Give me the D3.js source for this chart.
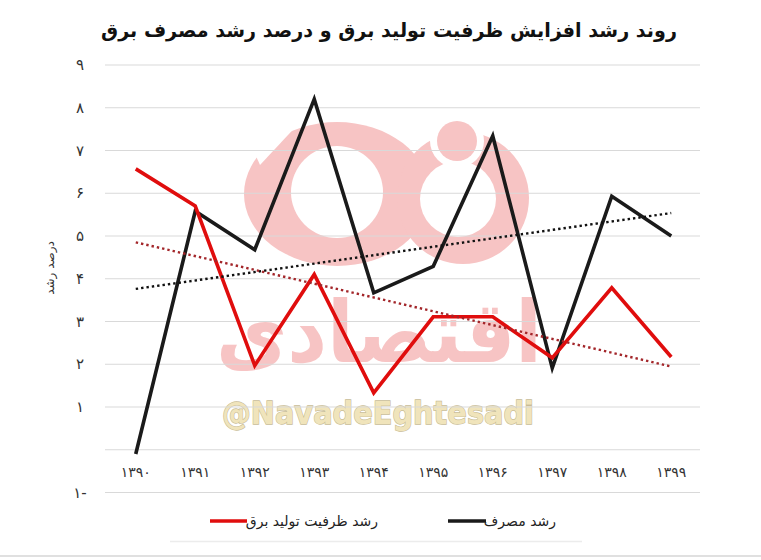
<!DOCTYPE html>
<html><head><meta charset="utf-8">
<script src="https://cdn.jsdelivr.net/npm/d3@7"></script>
<style>body{margin:0;background:#fff}</style>
</head><body>
<svg id="c" width="761" height="560"></svg>
<script>
// ---------- DATA ----------
const years = ['۱۳۹۰','۱۳۹۱','۱۳۹۲','۱۳۹۳','۱۳۹۴','۱۳۹۵','۱۳۹۶','۱۳۹۷','۱۳۹۸','۱۳۹۹'];
const capacityGrowth = [6.57, 5.7, 1.97, 4.1, 1.33, 3.11, 3.11, 2.15, 3.79, 2.17];
const consumptionGrowth = [-0.1, 5.58, 4.68, 8.2, 3.67, 4.29, 7.34, 1.91, 5.93, 5.0];
const yTicks = [-1, 0, 1, 2, 3, 4, 5, 6, 7, 8, 9];
const yTickLabels = ['۱-', '', '۱', '۲', '۳', '۴', '۵', '۶', '۷', '۸', '۹'];
const seriesNames = ['رشد ظرفیت تولید برق', 'رشد مصرف'];
const titleText = 'روند رشد افزایش ظرفیت تولید برق و درصد رشد مصرف برق';
const yTitle = 'درصد رشد';

// ---------- SETUP ----------
const FONT = '"DejaVu Sans", "Noto Sans", sans-serif';
const svg = d3.select('#c');
const x = d3.scaleBand().domain(years).range([106, 701]);
const cx = d => x(d) + x.bandwidth() / 2;
const y = d3.scaleLinear().domain([-1, 9]).range([492.5, 65]);

// helper: fit a text element into a box
function fitBox(sel, x0, y0, w, h) {
  const b = sel.node().getBBox();
  const sx = w / b.width, sy = h / b.height;
  sel.attr('transform', `translate(${x0 - b.x * sx},${y0 - b.y * sy}) scale(${sx},${sy})`);
}

// ---------- WATERMARK ----------
const wm = svg.append('g');
const pink = '#f7c4c4';
wm.append('ellipse').attr('cx', 337).attr('cy', 194).attr('rx', 93).attr('ry', 72).attr('fill', pink);
wm.append('circle').attr('cx', 463).attr('cy', 198).attr('r', 66).attr('fill', pink);
wm.append('circle').attr('cx', 337).attr('cy', 192).attr('r', 46).attr('fill', '#fff');
wm.append('circle').attr('cx', 458).attr('cy', 199).attr('r', 38).attr('fill', '#fff');
wm.append('path').attr('d', 'M240,120 L302,120 L260,165 Z').attr('fill', '#fff');
wm.append('circle').attr('cx', 457).attr('cy', 141).attr('r', 27).attr('fill', '#fff');
wm.append('circle').attr('cx', 457).attr('cy', 141).attr('r', 20).attr('fill', pink);
const wmText = wm.append('text').text('اقتصادی')
  .attr('font-family', FONT).attr('font-weight', 'bold').attr('font-size', 80)
  .attr('fill', pink);
fitBox(wmText, 216, 282, 326, 100);
const wmHandle = wm.append('text').text('@NavadeEghtesadi')
  .attr('font-family', FONT).attr('font-weight', 'bold').attr('font-size', 30)
  .attr('fill', '#f0e4bb').attr('stroke', '#c8bc96').attr('stroke-width', 1.2)
  .attr('paint-order', 'stroke');
fitBox(wmHandle, 222, 394, 312, 38);

// ---------- TITLE ----------
const title = svg.append('text').text(titleText)
  .attr('x', 389).attr('y', 37).attr('text-anchor', 'middle')
  .attr('font-family', FONT).attr('font-weight', 'bold').attr('font-size', 22)
  .attr('fill', '#111');
{
  const w = title.node().getComputedTextLength();
  title.attr('font-size', Math.min(26, 22 * 576 / w));
}

// ---------- GRID ----------
svg.append('g').selectAll('line').data(yTicks).join('line')
  .attr('x1', 105).attr('x2', 700)
  .attr('y1', d => y(d)).attr('y2', d => y(d))
  .attr('stroke', '#d9d9d9').attr('stroke-width', 1);

// y tick labels
svg.append('g').selectAll('text').data(yTicks).join('text')
  .attr('x', 80).attr('y', d => y(d) + 5).attr('text-anchor', 'middle')
  .attr('font-family', FONT).attr('font-size', 15).attr('fill', '#333')
  .text((d, i) => yTickLabels[i]);

// y title
svg.append('text').text(yTitle)
  .attr('transform', 'translate(54,268) rotate(-90)')
  .attr('text-anchor', 'middle')
  .attr('font-family', FONT).attr('font-size', 12).attr('fill', '#333');

// x labels
svg.append('g').selectAll('text').data(years).join('text')
  .attr('x', d => cx(d)).attr('y', 477).attr('text-anchor', 'middle')
  .attr('font-family', FONT).attr('font-size', 14).attr('fill', '#333')
  .text(d => d);

// ---------- LINES ----------
const line = d3.line().x((d, i) => cx(years[i])).y(d => y(d));
svg.append('path').datum(consumptionGrowth).attr('d', line)
  .attr('fill', 'none').attr('stroke', '#1a1a1a').attr('stroke-width', 3.6)
  .attr('stroke-linejoin', 'miter');
svg.append('path').datum(capacityGrowth).attr('d', line)
  .attr('fill', 'none').attr('stroke', '#e00d0d').attr('stroke-width', 3.6)
  .attr('stroke-linejoin', 'miter');

// trendlines (least squares)
function trend(vals) {
  const n = vals.length, xs = d3.range(n);
  const mx = d3.mean(xs), my = d3.mean(vals);
  const sxy = d3.sum(xs, i => (i - mx) * (vals[i] - my));
  const sxx = d3.sum(xs, i => (i - mx) ** 2);
  const m = sxy / sxx, b = my - m * mx;
  return [b, m * (n - 1) + b];
}
function drawTrend(vals, color) {
  const [a, b] = trend(vals);
  svg.append('line')
    .attr('x1', cx(years[0])).attr('y1', y(a))
    .attr('x2', cx(years[years.length - 1])).attr('y2', y(b))
    .attr('stroke', color).attr('stroke-width', 2.4)
    .attr('stroke-dasharray', '2.4,3');
}
drawTrend(consumptionGrowth, '#111');
drawTrend(capacityGrowth, '#a3262a');

// ---------- LEGEND ----------
const lg = svg.append('g');
lg.append('line').attr('x1', 210).attr('x2', 247).attr('y1', 521).attr('y2', 521)
  .attr('stroke', '#e00d0d').attr('stroke-width', 3.6);
lg.append('text').text(seriesNames[0]).attr('x', 378).attr('y', 526).attr('text-anchor', 'end')
  .attr('font-family', FONT).attr('font-size', 14).attr('fill', '#222');
lg.append('line').attr('x1', 448).attr('x2', 486).attr('y1', 521).attr('y2', 521)
  .attr('stroke', '#1a1a1a').attr('stroke-width', 3.6);
lg.append('text').text(seriesNames[1]).attr('x', 556).attr('y', 526).attr('text-anchor', 'end')
  .attr('font-family', FONT).attr('font-size', 14).attr('fill', '#222');

// faint frame lines
svg.append('line').attr('x1', 170).attr('x2', 582).attr('y1', 541.5).attr('y2', 541.5)
  .attr('stroke', '#ececec').attr('stroke-width', 1.5);
svg.append('line').attr('x1', 0).attr('x2', 761).attr('y1', 556).attr('y2', 556)
  .attr('stroke', '#d6d6d6').attr('stroke-width', 1.5);
</script>
</body></html>
